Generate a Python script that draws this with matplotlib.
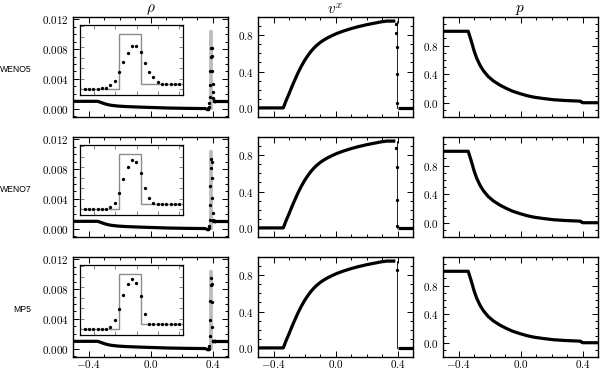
import numpy as np
import matplotlib
matplotlib.use('Agg')
import matplotlib.pyplot as plt
from matplotlib.ticker import FixedLocator, MultipleLocator

plt.rcParams['font.family'] = 'serif'
plt.rcParams['font.serif'] = ['cmr10']
plt.rcParams['mathtext.fontset'] = 'cm'
plt.rcParams['axes.formatter.use_mathtext'] = True
plt.rcParams['axes.unicode_minus'] = True

schemes = ['WENO5', 'WENO7', 'MP5']

# ---------------- smooth parts (common to all schemes) ----------------
rho_x = [-0.5, -0.34, -0.32, -0.30, -0.28, -0.26, -0.23, -0.20, -0.15, -0.10,
         -0.05, 0.0, 0.1, 0.2, 0.3, 0.36]
rho_v = [0.001, 0.001, 0.00085, 0.00070, 0.00058, 0.00049, 0.00041, 0.00035,
         0.00029, 0.00025, 0.00021, 0.00018, 0.00011, 0.00007, 0.00004, 0.00003]
rho_right_x = [0.41, 0.5]
rho_right_v = [0.001, 0.001]

vx_x = [-0.5, -0.337, -0.33, -0.32, -0.31, -0.30, -0.29, -0.28, -0.27, -0.26,
        -0.25, -0.24, -0.23, -0.215, -0.20, -0.18, -0.16, -0.14, -0.12, -0.10,
        -0.08, -0.05, -0.02, 0.01, 0.05, 0.1, 0.15, 0.2, 0.25, 0.3, 0.33, 0.386]
vx_v = [0.0, 0.0, 0.03, 0.075, 0.115, 0.155, 0.197, 0.238, 0.278, 0.317,
        0.355, 0.392, 0.427, 0.475, 0.52, 0.572, 0.618, 0.657, 0.69, 0.718,
        0.742, 0.772, 0.797, 0.82, 0.845, 0.872, 0.895, 0.915, 0.932, 0.948, 0.955, 0.955]
vx_right_x = [0.40125, 0.5]
vx_right_v = [0.0, 0.0]

p_x = [-0.5, -0.337, -0.33, -0.315, -0.30, -0.283, -0.26, -0.24, -0.21, -0.175,
       -0.13, -0.089, -0.05, -0.003, 0.04, 0.083, 0.15, 0.212, 0.28, 0.34, 0.385,
       0.39125, 0.39625, 0.40125, 0.5]
p_v = [1.0, 1.0, 0.95, 0.845, 0.73, 0.625, 0.52, 0.45, 0.37, 0.305,
       0.243, 0.198, 0.16, 0.127, 0.10, 0.079, 0.058, 0.042, 0.032, 0.026, 0.022,
       0.015, 0.004, 0.0, 0.0]

# ---------------- exact thin shell ----------------
shell_left, shell_right = 0.384, 0.3963
rho_pre, rho_shell, rho_post = 0.00003, 0.0104, 0.001
vx_shell = 0.955

# ---------------- cell values around the shell ----------------
cell_x = [0.36375, 0.36625, 0.36875, 0.37125, 0.37375, 0.37625, 0.37875, 0.38125,
          0.38375, 0.38625, 0.38875, 0.39125, 0.39375, 0.39625, 0.39875, 0.40125,
          0.40375, 0.40625, 0.40875, 0.41125, 0.41375, 0.41625, 0.41875]

rho_cells = {
    'WENO5': [0.00003, 0.00003, 0.00003, 0.00003, 0.000166, 0.000293, 0.000737, 0.00162,
              0.00321, 0.00511, 0.00694, 0.00815, 0.00815, 0.00701, 0.00504, 0.00333,
              0.00225, 0.00143, 0.001, 0.001, 0.001, 0.001, 0.001],
    'WENO7': [0.00003, 0.00003, 0.00003, 0.00003, 0.00003, 0.000103, 0.000357, 0.00124,
              0.00314, 0.00568, 0.00808, 0.00935, 0.00891, 0.00682, 0.00409, 0.00213,
              0.00124, 0.001, 0.001, 0.001, 0.001, 0.001, 0.001],
    'MP5':   [0.00003, 0.00003, 0.00003, 0.00003, 0.00003, 0.00003, 0.000357, 0.00169,
              0.0039, 0.00644, 0.00853, 0.00954, 0.00872, 0.00631, 0.00289, 0.001,
              0.001, 0.001, 0.001, 0.001, 0.001, 0.001, 0.001],
}

vx_shock_x = {
    'WENO5': [0.38875, 0.39125, 0.39375, 0.39625, 0.39875],
    'WENO7': [0.39125, 0.39375, 0.39625, 0.39875],
    'MP5':   [0.39625],
}
vx_shock_v = {
    'WENO5': [0.918, 0.826, 0.672, 0.378, 0.055],
    'WENO7': [0.874, 0.668, 0.312, 0.018],
    'MP5':   [0.86],
}

titles = [r'$\rho$', r'$v^x$', r'$p$']

W, H = 600, 370
fig = plt.figure(figsize=(6.0, 3.7), dpi=100)

col_left = [73, 258, 443]
row_top = [17, 137, 257]
aw, ah = 155, 100

LW = 2.3
MS = 2.4
GRAY = '#bdbdbd'


def style(ax, show_x):
    ax.set_xlim(-0.5, 0.5)
    ax.xaxis.set_major_locator(FixedLocator([-0.4, 0.0, 0.4]))
    ax.xaxis.set_minor_locator(MultipleLocator(0.1))
    ax.tick_params(which='both', direction='in', top=True, right=True,
                   labelsize=8, pad=3, width=0.7)
    ax.tick_params(axis='x', which='both', pad=0.8)
    ax.tick_params(which='major', length=4)
    ax.tick_params(which='minor', length=2)
    for s in ax.spines.values():
        s.set_linewidth(1.0)
    if not show_x:
        ax.tick_params(labelbottom=False)


for r, sch in enumerate(schemes):
    axes = []
    for c in range(3):
        ax = fig.add_axes([col_left[c] / W, 1 - (row_top[r] + ah) / H, aw / W, ah / H])
        style(ax, r == 2)
        axes.append(ax)
        if r == 0:
            ax.set_title(titles[c], fontsize=11, pad=2)

    # ---- density ----
    ax = axes[0]
    ax.fill_between([shell_left, shell_right], [rho_pre, rho_pre], [rho_shell, rho_shell],
                    color=GRAY, edgecolor=GRAY, lw=1.3, zorder=1)
    ax.plot(rho_x, rho_v, color='k', lw=LW, solid_capstyle='butt', zorder=3)
    ax.plot(rho_right_x, rho_right_v, color='k', lw=LW, solid_capstyle='butt', zorder=3)
    ax.plot(cell_x, rho_cells[sch], 'o', color='k', ms=MS, mew=0, zorder=4)
    ax.set_ylim(-0.0011, 0.0123)
    ax.yaxis.set_major_locator(FixedLocator([0.0, 0.004, 0.008, 0.012]))
    ax.yaxis.set_minor_locator(MultipleLocator(0.001))

    ins = ax.inset_axes([0.045, 0.22, 0.665, 0.70])
    ins.plot([0.361, shell_left, shell_left, shell_right, shell_right, 0.421],
             [rho_pre, rho_pre, rho_shell, rho_shell, rho_post, rho_post],
             color='#8c8c8c', lw=1.0, zorder=1)
    ins.plot(cell_x, rho_cells[sch], 'o', color='k', ms=MS, mew=0, zorder=3)
    ins.set_xlim(0.361, 0.421)
    ins.set_ylim(-0.0011, 0.0122)
    ins.xaxis.set_major_locator(FixedLocator([0.3692, 0.3816, 0.394, 0.4064, 0.4188]))
    ins.yaxis.set_major_locator(MultipleLocator(0.002))
    ins.tick_params(which='both', direction='in', top=True, right=True, length=3,
                    width=0.7, color='#888888', labelbottom=False, labelleft=False)
    for s in ins.spines.values():
        s.set_linewidth(0.9)
    ins.set_facecolor('white')

    # ---- velocity ----
    ax = axes[1]
    ax.plot([shell_right, shell_right], [vx_shell, 0.0], color='k', lw=0.6, zorder=2)
    ax.plot(vx_x, vx_v, color='k', lw=LW, solid_capstyle='butt', zorder=3)
    ax.plot(vx_right_x, vx_right_v, color='k', lw=LW, solid_capstyle='butt', zorder=3)
    ax.plot(vx_shock_x[sch], vx_shock_v[sch], 'o', color='k', ms=MS, mew=0, zorder=4)
    ax.set_ylim(-0.1, 1.0)
    ax.yaxis.set_major_locator(FixedLocator([0.0, 0.4, 0.8]))
    ax.yaxis.set_minor_locator(MultipleLocator(0.1))

    # ---- pressure ----
    ax = axes[2]
    ax.plot(p_x, p_v, color='k', lw=LW, solid_capstyle='butt', zorder=3)
    ax.set_ylim(-0.2, 1.2)
    ax.yaxis.set_major_locator(FixedLocator([0.0, 0.4, 0.8]))
    ax.yaxis.set_minor_locator(MultipleLocator(0.1))

    fig.text(31.5 / W, 1 - (row_top[r] + ah / 2 + 3) / H, sch, ha='right', va='center',
             fontsize=6.2, family='Liberation Sans')

fig.savefig('out.png', dpi=100)
